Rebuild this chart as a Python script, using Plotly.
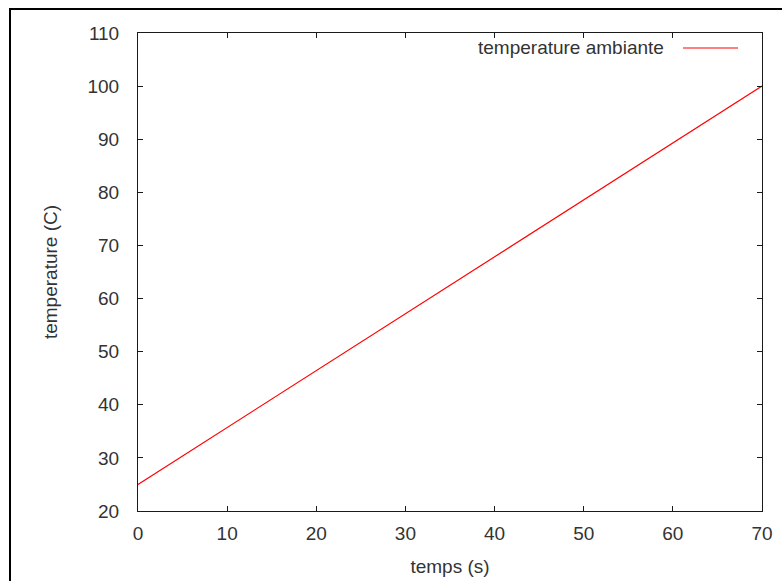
import plotly.graph_objects as go

# Data
temps_s = [0, 10, 20, 30, 40, 50, 60, 70]
temperature_c = [25.0, 35.7, 46.4, 57.1, 67.9, 78.6, 89.3, 100.0]

x_ticks = [0, 10, 20, 30, 40, 50, 60, 70]
y_ticks = [20, 30, 40, 50, 60, 70, 80, 90, 100, 110]
series_name = "temperature ambiante"

W, H = 782, 581
PL, PT, PR, PB = 138, 33, 762, 511   # plot area edges in pixels
L, T, R, B = PL, PT, W - PR, H - PB
pw, ph = PR - PL, PB - PT

def px_to_paper_x(px):
    return (px - PL) / pw

def px_to_paper_y(py):
    return (PB - py) / ph

FONT = "Liberation Sans"
FS = 19
TXT = "#333333"

fig = go.Figure()
fig.add_trace(go.Scatter(
    x=temps_s, y=temperature_c, mode="lines", name=series_name,
    line=dict(color="#ff0000", width=1.2), showlegend=False,
))

axis_common = dict(
    showgrid=False, zeroline=False, showline=True, linecolor="#1a1a1a",
    linewidth=1, ticks="inside", ticklen=5, tickcolor="#1a1a1a",
    mirror="ticks", automargin=False,
    tickfont=dict(family=FONT, size=FS, color=TXT),
)

fig.update_layout(
    width=W, height=H,
    margin=dict(l=L, r=R, t=T, b=B, pad=0),
    paper_bgcolor="white", plot_bgcolor="white",
    font=dict(family=FONT, size=FS, color=TXT),
    xaxis=dict(range=[0, 70], tickvals=x_ticks, ticklabelstandoff=5,
               title=dict(text="temps (s)", standoff=16,
                          font=dict(family=FONT, size=FS, color=TXT)),
               **axis_common),
    yaxis=dict(range=[20, 110], tickvals=y_ticks, ticklabelstandoff=14,
               title=dict(text="temperature (C)", standoff=24,
                          font=dict(family=FONT, size=FS, color=TXT)),
               **axis_common),
    showlegend=False,
)

# Legend (gnuplot style: text then sample)
fig.add_annotation(
    xref="paper", yref="paper",
    x=px_to_paper_x(666), y=px_to_paper_y(47),
    xanchor="right", yanchor="middle", showarrow=False,
    text=series_name, font=dict(family=FONT, size=FS, color=TXT),
)
fig.add_shape(
    type="line", xref="paper", yref="paper",
    x0=px_to_paper_x(683), x1=px_to_paper_x(738),
    y0=px_to_paper_y(48), y1=px_to_paper_y(48),
    line=dict(color="#ff0000", width=1.2),
)

# Outer frame of the image (cropped on the right and bottom)
fig.add_shape(
    type="rect", xref="paper", yref="paper",
    x0=px_to_paper_x(10), x1=px_to_paper_x(820),
    y0=px_to_paper_y(620), y1=px_to_paper_y(9),
    line=dict(color="#000000", width=2), fillcolor="rgba(0,0,0,0)",
    layer="above",
)

fig.write_html(
    "out.html",
    config={"displayModeBar": False},
    post_script=(
        "document.documentElement.style.margin='0';"
        "document.documentElement.style.overflow='hidden';"
        "document.body.style.margin='0';"
        "document.body.style.overflow='hidden';"
    ),
)
